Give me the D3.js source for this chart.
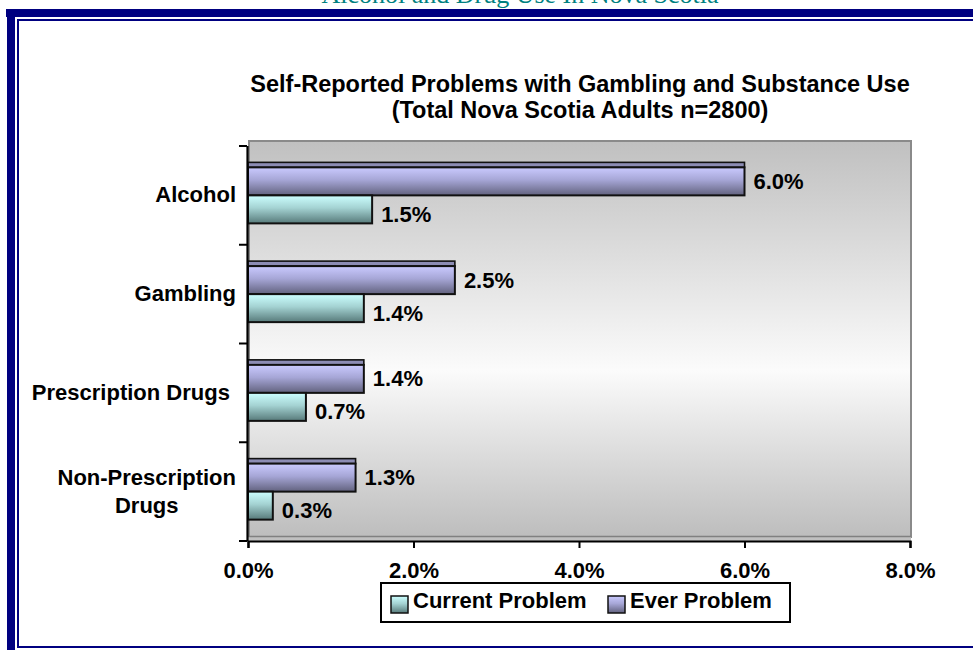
<!DOCTYPE html>
<html><head><meta charset="utf-8">
<script src="https://cdn.jsdelivr.net/npm/d3@7"></script>
<style>
body{margin:0;background:#fff}
svg{display:block}
text{font-family:"Liberation Sans",Arial,sans-serif;font-weight:bold;fill:#000}
</style>
</head><body>
<svg id="c" width="973" height="650"></svg>
<script>
// ---- data ----
const pageTitle = "Alcohol and Drug Use In Nova Scotia";
const titleLines = ["Self-Reported Problems with Gambling and Substance Use", "(Total Nova Scotia Adults n=2800)"];
const categories = ["Alcohol", "Gambling", "Prescription Drugs", "Non-Prescription Drugs"];
const categoryLines = [["Alcohol"], ["Gambling"], ["Prescription Drugs "], ["Non-Prescription", "Drugs"]];
const everProblem = [6.0, 2.5, 1.4, 1.3];
const currentProblem = [1.5, 1.4, 0.7, 0.3];
const legendNames = ["Current Problem", "Ever Problem"];
const xTicks = [0, 2, 4, 6, 8];

const svg = d3.select("#c");
const defs = svg.append("defs");
function vGrad(id, stops) {
  const g = defs.append("linearGradient").attr("id", id).attr("x1", 0).attr("y1", 0).attr("x2", 0).attr("y2", 1);
  stops.forEach(s => g.append("stop").attr("offset", s[0]).attr("stop-color", s[1]));
}
vGrad("wall", [[0, "#c0c0c0"], [0.58, "#fbfbfb"], [1, "#bdbdbd"]]);
vGrad("ever", [[0, "#cacaff"], [0.45, "#a6a6d6"], [1, "#62627e"]]);
vGrad("cur", [[0, "#ccffff"], [0.45, "#a4d2d2"], [1, "#577a7a"]]);

// ---- page frame ----
const navy = "#000080";
svg.append("text").attr("x", 520).attr("y", 3).attr("text-anchor", "middle")
  .style("font-family", "'Liberation Serif','Times New Roman',serif").style("font-weight", "normal")
  .style("font-size", "26px").style("fill", "#008080").text(pageTitle);
svg.append("rect").attr("x", 6).attr("y", 9).attr("width", 967).attr("height", 8).attr("fill", navy);
svg.append("rect").attr("x", 7).attr("y", 9).attr("width", 8).attr("height", 641).attr("fill", navy);
svg.append("rect").attr("x", 17).attr("y", 19).attr("width", 956).attr("height", 2).attr("fill", navy);
svg.append("rect").attr("x", 17).attr("y", 19).attr("width", 2).attr("height", 629).attr("fill", navy);
svg.append("rect").attr("x", 17).attr("y", 646).attr("width", 956).attr("height", 2).attr("fill", navy);

// ---- scales ----
const x = d3.scaleLinear().domain([0, 8]).range([248, 910]);
const y = d3.scaleBand().domain(categories).range([146, 541]);
const sub = d3.scaleBand().domain(["ever", "cur"]).range([0, y.bandwidth()]).paddingInner(0).paddingOuter(0.763);

// ---- plot wall / floor ----
svg.append("rect").attr("x", 249).attr("y", 141).attr("width", 662).attr("height", 396)
  .attr("fill", "url(#wall)").attr("stroke", "#8a8a8a").attr("stroke-width", 2);
svg.append("rect").attr("x", 247).attr("y", 537).attr("width", 664).attr("height", 4).attr("fill", "#c0c0c0");
svg.append("line").attr("x1", 248).attr("x2", 911).attr("y1", 536.5).attr("y2", 536.5).attr("stroke", "#808080").attr("stroke-width", 1.5);

// ---- title ----
titleLines.forEach((t, i) => {
  svg.append("text").attr("x", 580).attr("y", 92 + i * 25.5).attr("text-anchor", "middle")
    .style("font-size", "23.5px").text(t);
});

// ---- bars ----
const rows = categories.map((c, i) => ({c, ever: everProblem[i], cur: currentProblem[i]}));
const g = svg.append("g");
rows.forEach(r => {
  const yE = y(r.c) + sub("ever");
  g.append("rect").attr("x", x(0)).attr("y", yE - 5).attr("width", x(r.ever) - x(0)).attr("height", 5)
    .attr("fill", "#8c8cb4").attr("stroke", "#111").attr("stroke-width", 1.6);
  g.append("rect").attr("x", x(0)).attr("y", yE).attr("width", x(r.ever) - x(0)).attr("height", sub.bandwidth())
    .attr("fill", "url(#ever)").attr("stroke", "#111").attr("stroke-width", 2);
  const yC = y(r.c) + sub("cur");
  g.append("rect").attr("x", x(0)).attr("y", yC).attr("width", x(r.cur) - x(0)).attr("height", sub.bandwidth())
    .attr("fill", "url(#cur)").attr("stroke", "#111").attr("stroke-width", 2);
  g.append("text").attr("x", x(r.ever) + 9).attr("y", yE + sub.bandwidth() / 2 + 7.5)
    .style("font-size", "22px").text(r.ever.toFixed(1) + "%");
  g.append("text").attr("x", x(r.cur) + 9).attr("y", yC + sub.bandwidth() / 2 + 12.5)
    .style("font-size", "22px").text(r.cur.toFixed(1) + "%");
});

// ---- axes ----
const xa = svg.append("g").attr("transform", "translate(0,541)")
  .call(d3.axisBottom(x).tickValues(xTicks).tickSize(7).tickPadding(10).tickFormat(d => d.toFixed(1) + "%"));
xa.select(".domain").attr("stroke", "#000").attr("stroke-width", 2.2);
xa.selectAll(".tick line").attr("stroke", "#000").attr("stroke-width", 2);
xa.selectAll(".tick text").style("font-size", "22px").attr("font-family", null).attr("dy", "0.71em").attr("y", 21);

const bounds = categories.map(c => y(c)).concat([y.range()[1]]);
svg.append("line").attr("x1", 247.5).attr("x2", 247.5).attr("y1", bounds[0]).attr("y2", 541).attr("stroke", "#000").attr("stroke-width", 2.2);
svg.selectAll(".ytick").data(bounds).join("line").attr("class", "ytick")
  .attr("x1", 239).attr("x2", 247).attr("y1", d => d).attr("y2", d => d).attr("stroke", "#000").attr("stroke-width", 2);

// category labels (multi-line labels centred inside a right-aligned block)
categories.forEach((c, i) => {
  const lines = categoryLines[i];
  const cy = y(c) + y.bandwidth() / 2;
  const tg = svg.append("g");
  const ts = lines.map((l, j) => tg.append("text").style("font-size", "22px").style("white-space", "pre")
    .attr("xml:space", "preserve")
    .attr("y", cy + 7 - (lines.length - 1) * 14 + j * 28).text(l));
  const w = d3.max(ts, t => t.node().getComputedTextLength());
  ts.forEach(t => t.attr("text-anchor", "middle").attr("x", 236 - w / 2));
});

// ---- legend ----
const lg = svg.append("g");
lg.append("rect").attr("x", 381).attr("y", 583).attr("width", 409).attr("height", 39)
  .attr("fill", "#fff").attr("stroke", "#000").attr("stroke-width", 2);
const legendFills = ["url(#cur)", "url(#ever)"];
const legendX = [391, 608];
legendNames.forEach((n, i) => {
  lg.append("rect").attr("x", legendX[i]).attr("y", 596).attr("width", 17).attr("height", 17)
    .attr("fill", legendFills[i]).attr("stroke", "#111").attr("stroke-width", 1.5);
  lg.append("text").attr("x", legendX[i] + 22).attr("y", 607.5).style("font-size", "22px").text(n);
});
</script>
</body></html>
